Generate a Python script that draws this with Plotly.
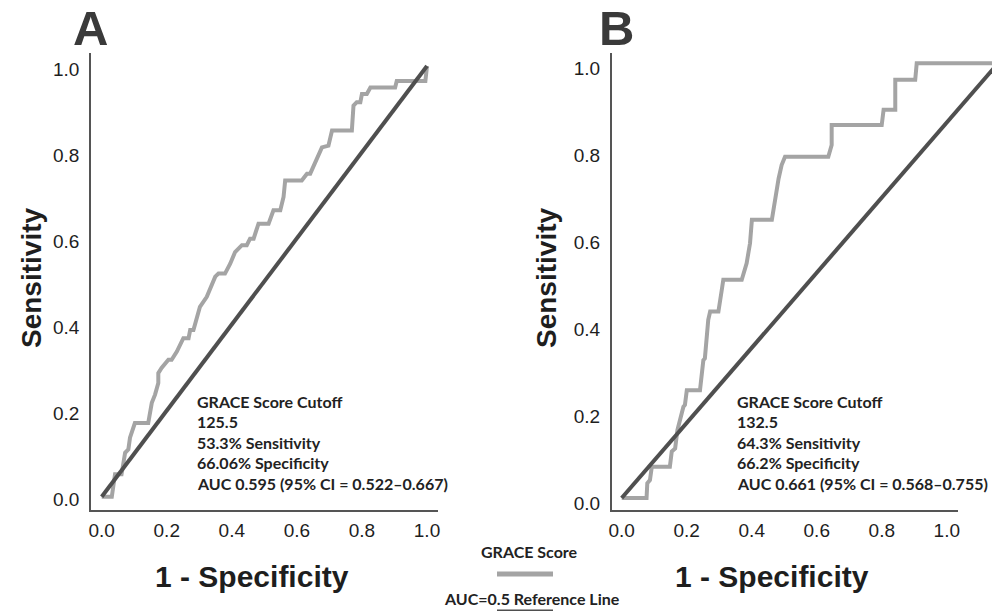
import plotly.graph_objects as go

# ---------------- data ----------------
# Panel A: GRACE score ROC (1 - specificity, sensitivity)
a_fpr = [0.0, 0.031, 0.041, 0.061, 0.072, 0.082, 0.087, 0.092, 0.102, 0.143, 0.154, 0.164,
         0.174, 0.174, 0.184, 0.205, 0.215, 0.231, 0.251, 0.267, 0.272, 0.282, 0.292, 0.302,
         0.323, 0.349, 0.359, 0.379, 0.395, 0.410, 0.431, 0.446, 0.456, 0.467, 0.482, 0.513,
         0.528, 0.549, 0.559, 0.564, 0.615, 0.631, 0.641, 0.677, 0.697, 0.708, 0.769, 0.774,
         0.784, 0.795, 0.800, 0.815, 0.826, 0.902, 0.907, 0.995, 1.0]
a_tpr = [0.0, 0.0, 0.052, 0.052, 0.102, 0.110, 0.137, 0.148, 0.171, 0.171, 0.218, 0.237,
         0.264, 0.287, 0.299, 0.318, 0.318, 0.337, 0.368, 0.368, 0.387, 0.387, 0.418, 0.441,
         0.464, 0.511, 0.518, 0.518, 0.541, 0.568, 0.584, 0.584, 0.599, 0.599, 0.634, 0.634,
         0.665, 0.665, 0.696, 0.734, 0.734, 0.750, 0.750, 0.811, 0.815, 0.850, 0.850, 0.908,
         0.916, 0.916, 0.935, 0.935, 0.950, 0.950, 0.965, 0.965, 1.0]

# Panel B
b_fpr = [0.0, 0.066, 0.068, 0.075, 0.080, 0.128, 0.133, 0.142, 0.148, 0.155, 0.164, 0.168,
         0.173, 0.208, 0.213, 0.217, 0.221, 0.226, 0.230, 0.235, 0.257, 0.266, 0.270, 0.319,
         0.328, 0.332, 0.341, 0.346, 0.399, 0.408, 0.417, 0.425, 0.434, 0.549, 0.558, 0.558,
         0.691, 0.696, 0.727, 0.727, 0.780, 0.784, 1.0]
b_tpr = [0.0, 0.0, 0.034, 0.041, 0.072, 0.072, 0.107, 0.114, 0.156, 0.179, 0.210, 0.214,
         0.248, 0.248, 0.294, 0.317, 0.321, 0.363, 0.410, 0.429, 0.429, 0.479, 0.502, 0.502,
         0.528, 0.540, 0.586, 0.640, 0.640, 0.693, 0.735, 0.766, 0.785, 0.785, 0.812, 0.858,
         0.858, 0.893, 0.893, 0.962, 0.962, 1.0, 1.0]

ref_x = [0.0, 1.0]
ref_y = [0.0, 1.0]

tick_vals = [0.0, 0.2, 0.4, 0.6, 0.8, 1.0]
tick_text = ["0.0", "0.2", "0.4", "0.6", "0.8", "1.0"]

notes_a = ["GRACE Score Cutoff", "125.5", "53.3% Sensitivity", "66.06% Specificity",
           "AUC 0.595 (95% CI = 0.522–0.667)"]
notes_b = ["GRACE Score Cutoff", "132.5", "64.3% Sensitivity", "66.2% Specificity",
           "AUC 0.661 (95% CI = 0.568–0.755)"]

series_names = ["GRACE Score", "AUC=0.5 Reference Line"]
panel_labels = ["A", "B"]

# ---------------- styles ----------------
W, H = 1000, 611
OFF = 8  # default page body margin of the HTML page
GREY = "#a4a4a4"
DARK = "#4f4f4f"
AXC = "#555555"
TXT = "#1e1e1e"
NOTE_FONT = dict(family="Lato", size=16, color="#222222")
TICK_FONT = dict(family="Liberation Sans, Arial", size=19, color=TXT)
TITLE_FONT = dict(family="Liberation Sans, Arial", size=28, color=TXT)

def px_x(p):
    return (p - OFF) / W

def px_y(p):
    return 1 - (p - OFF) / H

fig = go.Figure()

# Panel A traces
fig.add_trace(go.Scatter(x=a_fpr, y=a_tpr, mode="lines", line=dict(color=GREY, width=4),
                         xaxis="x", yaxis="y", showlegend=False, hoverinfo="skip"))
fig.add_trace(go.Scatter(x=ref_x, y=ref_y, mode="lines", line=dict(color=DARK, width=4),
                         xaxis="x", yaxis="y", showlegend=False, hoverinfo="skip"))
# Panel B traces
fig.add_trace(go.Scatter(x=b_fpr, y=b_tpr, mode="lines", line=dict(color=GREY, width=4),
                         xaxis="x2", yaxis="y2", showlegend=False, hoverinfo="skip"))
fig.add_trace(go.Scatter(x=ref_x, y=ref_y, mode="lines", line=dict(color=DARK, width=4),
                         xaxis="x2", yaxis="y2", showlegend=False, hoverinfo="skip"))
# empty trace to hold panel B tick axis
fig.add_trace(go.Scatter(x=[None], y=[None], mode="lines", xaxis="x3", yaxis="y2",
                         showlegend=False, hoverinfo="skip"))

ydom = [px_y(510), px_y(52.7)]

common_axis = dict(showgrid=False, zeroline=False, fixedrange=True, automargin=False)

fig.update_layout(
    width=W, height=H,
    margin=dict(l=0, r=0, t=0, b=0, autoexpand=False),
    paper_bgcolor="white", plot_bgcolor="rgba(0,0,0,0)",
    showlegend=False,
    xaxis=dict(domain=[px_x(91), px_x(438)], range=[-0.0329, 1.0338], anchor="y",
               showline=True, linecolor=AXC, linewidth=1.5, tickvals=tick_vals, ticktext=tick_text,
               ticks="", tickfont=TICK_FONT, ticklabelstandoff=2, **common_axis),
    yaxis=dict(domain=ydom, range=[-0.0309, 1.0309], anchor="x",
               showline=True, linecolor=AXC, linewidth=1.5, tickvals=tick_vals, ticktext=tick_text,
               ticks="", tickfont=TICK_FONT, ticklabelstandoff=6, ticklabelshift=3, **common_axis),
    xaxis2=dict(domain=[px_x(611.7), px_x(1008)], range=[-0.0266, 1.0266], anchor="y2",
                visible=False, **common_axis),
    yaxis2=dict(domain=ydom, range=[-0.0276, 1.0244], anchor="x2",
                showline=True, linecolor=AXC, linewidth=1.5, tickvals=tick_vals, ticktext=tick_text,
                ticks="", tickfont=TICK_FONT, ticklabelstandoff=6, ticklabelshift=5, **common_axis),
    xaxis3=dict(domain=[px_x(611.7), px_x(958)], range=[-0.0307, 1.0344], anchor="y2",
                showline=True, linecolor=AXC, linewidth=1.5, tickvals=tick_vals, ticktext=tick_text,
                ticks="", tickfont=TICK_FONT, ticklabelstandoff=2, **common_axis),
)

ann = []
# axis titles
for cx in (31, 546):
    ann.append(dict(x=px_x(cx), y=px_y(278), xref="paper", yref="paper", text="<b>Sensitivity</b>",
                    textangle=-90, showarrow=False, xanchor="center", yanchor="middle",
                    font=TITLE_FONT))
for cx in (252, 772):
    ann.append(dict(x=px_x(cx), y=px_y(576), xref="paper", yref="paper", text="<b>1 - Specificity</b>",
                    showarrow=False, xanchor="center", yanchor="middle",
                    font=dict(family="Liberation Sans, Arial", size=30, color=TXT)))
# panel letters
for lab, cx in zip(panel_labels, (90, 616)):
    ann.append(dict(x=px_x(cx), y=px_y(28), xref="paper", yref="paper", text=f"<b>{lab}</b>",
                    showarrow=False, xanchor="center", yanchor="middle",
                    font=dict(family="Liberation Sans, Arial", size=49, color="#3a3a3a")))
# notes
for notes, lx in ((notes_a, 195), (notes_b, 735)):
    for i, line in enumerate(notes):
        ann.append(dict(x=px_x(lx), y=px_y(401 + i * 20.6), xref="paper", yref="paper",
                        text=f"<b>{line}</b>", showarrow=False, xanchor="left", yanchor="middle",
                        font=NOTE_FONT))
# legend
ann.append(dict(x=px_x(529), y=px_y(551), xref="paper", yref="paper", text=f"<b>{series_names[0]}</b>",
                showarrow=False, xanchor="center", yanchor="middle", font=NOTE_FONT))
ann.append(dict(x=px_x(532), y=px_y(598), xref="paper", yref="paper", text=f"<b>{series_names[1]}</b>",
                showarrow=False, xanchor="center", yanchor="middle", font=NOTE_FONT))
fig.update_layout(annotations=ann)

fig.add_shape(type="line", xref="paper", yref="paper", x0=px_x(497), x1=px_x(553), y0=px_y(574), y1=px_y(574),
              line=dict(color=GREY, width=5))
fig.add_shape(type="line", xref="paper", yref="paper", x0=px_x(497), x1=px_x(553), y0=px_y(612), y1=px_y(612),
              line=dict(color=DARK, width=5))

fig.write_html("out.html")
